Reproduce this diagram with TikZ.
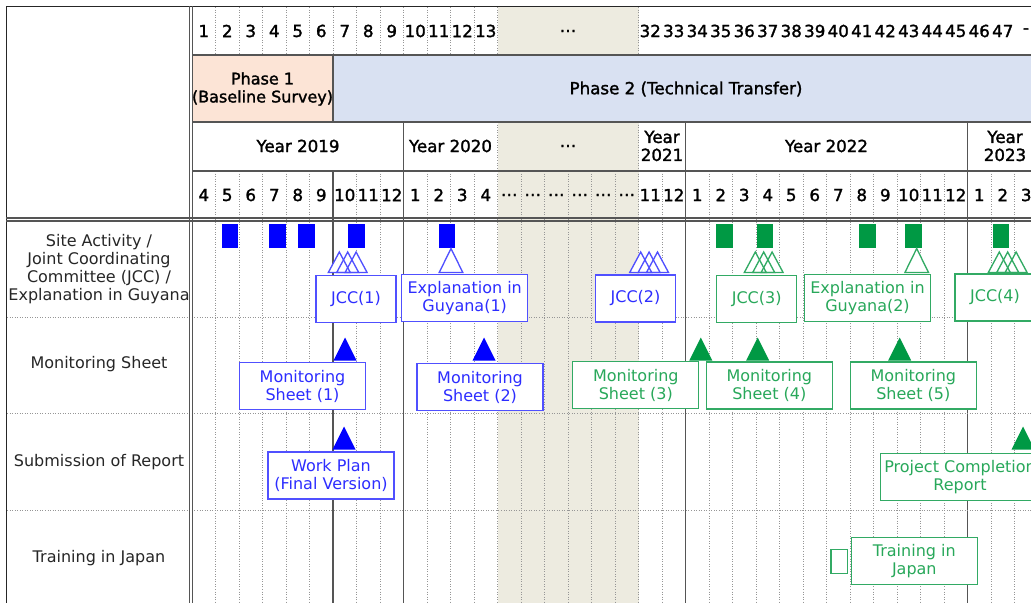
\documentclass[tikz,border=0pt]{standalone}
\usepackage{fontspec}
\setmainfont{DejaVu Sans}
\newfontfamily\headfont{DejaVu Sans}[FakeBold=1.6]
\newcommand{\chartfont}{\fontsize{12}{13.5}\selectfont}
\newcommand{\headsize}{\fontsize{12.5}{13.5}\selectfont}
\usetikzlibrary{positioning,calc}

\definecolor{planblue}{RGB}{0,0,255}
\definecolor{planbluetext}{RGB}{45,45,255}
\definecolor{planblueline}{RGB}{80,80,255}
\definecolor{plangreen}{RGB}{0,153,68}
\definecolor{plangreentext}{RGB}{40,168,90}
\definecolor{plangreenline}{RGB}{50,170,100}
\definecolor{phaseone}{RGB}{252,228,214}
\definecolor{phasetwo}{RGB}{217,225,242}
\definecolor{gapfill}{RGB}{237,235,224}
\definecolor{linegray}{RGB}{85,85,85}
\definecolor{dotgray}{RGB}{150,150,150}

\tikzset{
gridline/.style = {dotgray, line width=0.7pt, dash pattern=on 0.7pt off 1.2pt},
yearline/.style = {linegray, line width=1pt},
outerline/.style = {black!85, line width=1pt},
cell/.style = {inner sep=0pt, align=center, font=\headfont\headsize},
rowtitle/.style = {inner sep=0pt, align=center, text=black!85, font=\chartfont},
bluebox/.style = {draw=planblueline, text=planbluetext, fill=white, line width=1pt,
  inner sep=0pt, align=center, font=\chartfont, minimum height=35.25pt, minimum width=94.5pt},
greenbox/.style = {bluebox, draw=plangreenline, text=plangreentext},
jcc/.style = {minimum width=60pt},
sq/.style = {rectangle, inner sep=0pt, minimum width=12.5pt, minimum height=18pt},
milestone/.pic = {\fill (-11.5,0) -- (0,-23) -- (11.5,0) -- cycle;},
meeting/.pic = {\filldraw[fill=white, line width=1pt] (-11.8,0) -- (0,-24) -- (11.8,0) -- cycle;},
meetings/.pic = {
  \foreach \d in {0,8.4,16.8}
    \fill[white] ({\d-11},0) -- (\d,-20.5) -- ({\d+11},0) -- cycle;
  \foreach \d in {0,8.4,16.8}
    \draw[line width=1pt] ({\d-11},0) -- (\d,-20.5) -- ({\d+11},0) -- cycle;
}
}

\begin{document}
\begin{tikzpicture}[x=0.75pt, y=-0.75pt, font=\chartfont]
\useasboundingbox (0,0) rectangle (1031,603);
\clip (0,0) rectangle (1031,603);

% gap columns and phase bands
\fill[gapfill] (497.5,7) rectangle (638.5,603);
\fill[phaseone] (192,55) rectangle (333,122);
\fill[phasetwo] (333,55) rectangle (1040,122);

% column lines
\foreach \j in {1,...,13,19,...,35}
  \draw[gridline] ({192+23.5*\j},7) -- ({192+23.5*\j},55);
\foreach \j in {1,...,35}
  \draw[gridline] ({192+23.5*\j},171) -- ({192+23.5*\j},603);
\draw[gridline] (497.5,122) -- (497.5,171) (638.5,122) -- (638.5,171);
\foreach \xx in {403.5,685.5,967.5}
  \draw[yearline] (\xx,122) -- (\xx,603);
\draw[yearline] (333,55) -- (333,122) (333,171) -- (333,603);

% row lines
\foreach \yy in {317,413.5,510}
  \draw[gridline] (7,\yy) -- (1040,\yy);
\foreach \yy in {55,122,171}
  \draw[yearline] (192,\yy) -- (1040,\yy);
\draw[outerline] (6,6.5) -- (1040,6.5) (6.5,6) -- (6.5,603);
\draw[yearline] (6,218) -- (1040,218) (6,221) -- (1040,221);
\draw[yearline] (189.5,6) -- (189.5,603) (192.5,6) -- (192.5,603);

% month counter
\foreach \n [count=\j from 0] in {1,...,13}
  \node[cell] (top\n) at ({203.75+23.5*\j},31) {\n};
\foreach \n [count=\j from 19] in {32,...,47}
  \node[cell] (top\n) at ({203.75+23.5*\j},31) {\n};
\node[cell] (topgap) at (568,31) {…};
\node[cell] (topmore) at (1026,31) {-};

% phases
\node[cell, font=\headfont\chartfont] (phase1) at (262.5,89) {Phase 1\\(Baseline Survey)};
\node[cell] (phase2) at (686,89) {Phase 2 (Technical Transfer)};

% years
\node[cell] (y2019) at (298,146) {Year 2019};
\node[cell] (y2020) at (450.5,146) {Year 2020};
\node[cell] (ygap) at (568,146) {…};
\node[cell] (y2021) at (662,146) {Year\\2021};
\node[cell] (y2022) at (826.5,146) {Year 2022};
\node[cell] (y2023) at (1005,146) {Year\\2023};

% months
\foreach \m [count=\j from 0] in {4,5,6,7,8,9,10,11,12,1,2,3,4,…,…,…,…,…,…,11,12,1,2,3,4,5,6,7,8,9,10,11,12,1,2,3}
  \node[cell] (mon\j) at ({203.75+23.5*\j},195) {\m};

% row titles
\node[rowtitle] (site) at (99,269) {Site Activity /\\Joint Coordinating\\Committee (JCC) /\\Explanation in Guyana};
\node[rowtitle] (monitor) at (99,364) {Monitoring Sheet};
\node[rowtitle] (report) at (99,462) {Submission of Report};
\node[rowtitle] (training) at (99,558) {Training in Japan};

% site activities
\foreach \xx [count=\i] in {230,277.3,306.3,356.3,447}
  \node[sq, fill=planblue] (bsite\i) at (\xx,236) {};
\foreach \xx [count=\i] in {724.7,765,867.2,913.8,1001}
  \node[sq, fill=plangreen] (gsite\i) at (\xx,236) {};

% JCC and explanation meetings
\pic[planblueline] at (339.3,272.5) {meetings};
\pic[planblueline] at (451,272.5) {meeting};
\pic[planblueline] at (640.7,272.5) {meetings};
\pic[plangreenline] at (755.3,272.5) {meetings};
\pic[plangreenline] at (916.7,272.5) {meeting};
\pic[plangreenline] at (999.3,272.5) {meetings};

\node[bluebox, jcc] (jcc1) at (356,299) {JCC(1)};
\node[bluebox] (expl1) at (464.7,298) {Explanation in\\Guyana(1)};
\node[bluebox, jcc] (jcc2) at (635.5,298.5) {JCC(2)};
\node[greenbox, jcc] (jcc3) at (756.7,299) {JCC(3)};
\node[greenbox] (expl2) at (867.5,298.3) {Explanation in\\Guyana(2)};
\node[greenbox, jcc] (jcc4) at (995,297.5) {JCC(4)};

% monitoring sheets
\pic[planblue] at (345,360.5) {milestone};
\pic[planblue] at (484,360.5) {milestone};
\pic[plangreen] at (700.8,360.5) {milestone};
\pic[plangreen] at (757.7,360.5) {milestone};
\pic[plangreen] at (899.7,360.5) {milestone};
\node[bluebox] (sheet1) at (302.5,386.3) {Monitoring\\Sheet (1)};
\node[bluebox] (sheet2) at (480,387) {Monitoring\\Sheet (2)};
\node[greenbox] (sheet3) at (635.8,385.3) {Monitoring\\Sheet (3)};
\node[greenbox] (sheet4) at (769.3,385.5) {Monitoring\\Sheet (4)};
\node[greenbox] (sheet5) at (913.3,385.5) {Monitoring\\Sheet (5)};

% reports
\pic[planblue] at (344,449.5) {milestone};
\pic[plangreen] at (1023,449.5) {milestone};
\node[bluebox] (workplan) at (331,475.5) {Work Plan\\(Final Version)};
\node[greenbox, minimum width=119pt] (completion) at (960,477) {Project Completion\\Report};

% training
\node[sq, draw=plangreenline, line width=1pt, fill=white] (trainmark) at (839.3,561.3) {};
\node[greenbox] (japan) at (914.3,561.3) {Training in\\Japan};
\end{tikzpicture}
\end{document}
